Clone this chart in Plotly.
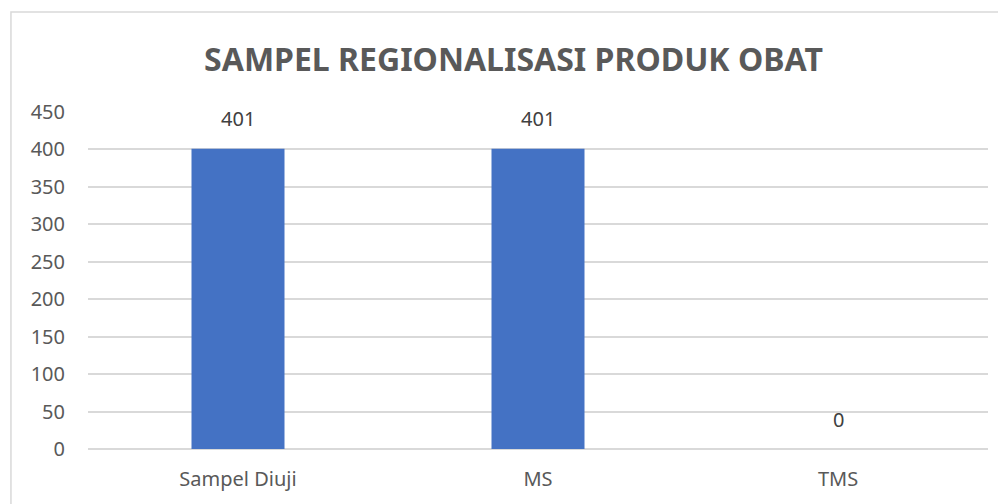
import plotly.graph_objects as go

# Data
categories = ["Sampel Diuji", "MS", "TMS"]
values = [401, 401, 0]
y_ticks = [0, 50, 100, 150, 200, 250, 300, 350, 400, 450]

font_name = "Noto Sans"
grey = "#595959"
clear = "rgba(0,0,0,0)"

fig = go.Figure()
fig.add_trace(go.Bar(
    x=categories,
    y=values,
    marker=dict(color="#4472C4", line=dict(width=0)),
    width=0.31,
    hoverinfo="x+y",
))

# data labels, placed a bit above each bar like Excel does
for c, v in zip(categories, values):
    fig.add_annotation(
        x=c, y=v, text=str(v), showarrow=False,
        yanchor="middle", yshift=30,
        font=dict(family=font_name, size=20, color="#404040"),
    )

fig.update_layout(
    width=1006,
    height=504,
    margin=dict(l=80, r=26, t=104, b=63),
    paper_bgcolor="white",
    plot_bgcolor="white",
    showlegend=False,
    title=dict(
        text="<b>SAMPEL REGIONALISASI PRODUK OBAT</b>",
        x=0.5025, xanchor="center",
        y=0.897, yanchor="middle",
        font=dict(family=font_name, size=32, color=grey),
    ),
    xaxis=dict(
        showgrid=False,
        showline=False,
        ticks="outside",
        ticklen=12,
        tickcolor=clear,
        tickfont=dict(family=font_name, size=20, color=grey),
    ),
    yaxis=dict(
        range=[0, 450],
        tickvals=y_ticks,
        showgrid=True,
        gridcolor="#d9d9d9",
        gridwidth=1.5,
        zeroline=True,
        zerolinecolor="#d9d9d9",
        zerolinewidth=1.5,
        showline=False,
        ticks="outside",
        ticklen=18,
        tickcolor=clear,
        tickfont=dict(family=font_name, size=20, color=grey),
    ),
    shapes=[dict(
        type="rect", xref="paper", yref="paper",
        x0=-0.0856, x1=1.2, y0=-0.6, y1=1.2967,
        line=dict(color="#d9d9d9", width=1.5),
        fillcolor=clear,
        layer="below",
    )],
)

fig.write_html("out.html")
